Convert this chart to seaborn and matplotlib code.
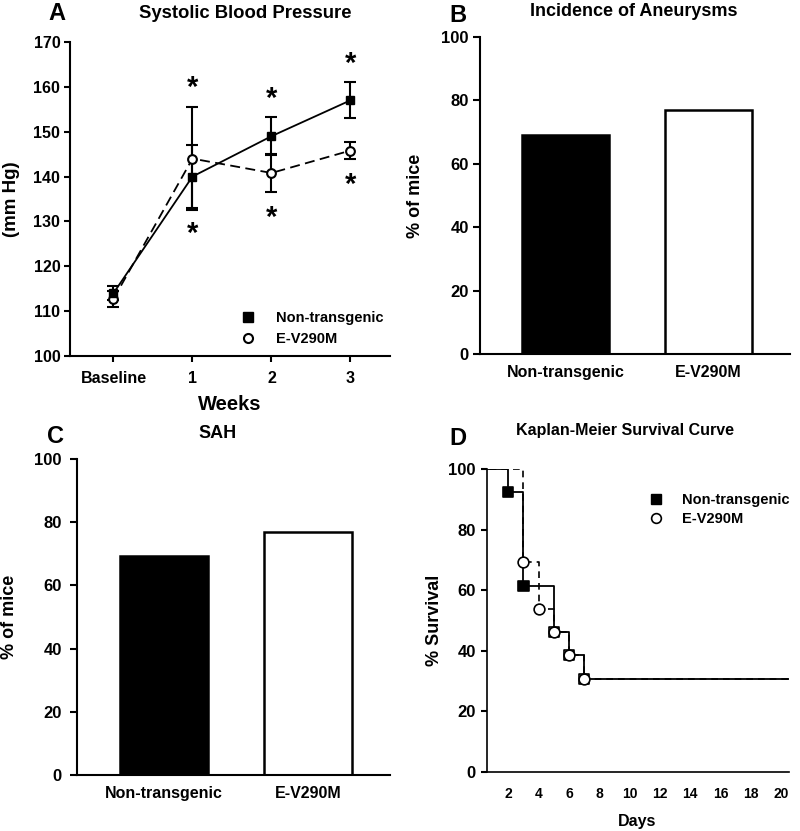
import numpy as np
import pandas as pd
import matplotlib
matplotlib.use("Agg")
import matplotlib.pyplot as plt
from matplotlib.lines import Line2D
import seaborn as sns

# ---------------- data ----------------
weeks = ["Baseline", "1", "2", "3"]
bp_nt = [114.0, 140.0, 149.0, 157.0]
bp_nt_err = [1.5, 7.0, 4.3, 4.0]
bp_ev = [112.7, 144.0, 140.8, 145.8]
bp_ev_err = [1.8, 11.5, 4.3, 1.8]
star_upper = [None, 160.9, 158.3, 166.1]
star_lower = [None, 128.4, 131.8, 139.2]

groups = ["Non-transgenic", "E-V290M"]
aneurysm_pct = [69.2, 76.9]
sah_pct = [69.2, 76.9]

km_nt_days = [0, 2, 3, 5, 6, 7, 21]
km_nt_surv = [100.0, 92.3, 61.5, 46.2, 38.5, 30.8, 30.8]
km_ev_days = [0, 3, 4, 5, 6, 7, 21]
km_ev_surv = [100.0, 69.2, 53.8, 46.2, 38.5, 30.8, 30.8]
nt_event_days = [2, 3, 5, 6, 7]
nt_event_surv = [92.3, 61.5, 46.2, 38.5, 30.8]
nt_event_fill = ["black", "black", "white", "white", "white"]
ev_event_days = [3, 4, 5, 6, 7]
ev_event_surv = [69.2, 53.8, 46.2, 38.5, 30.8]

# ---------------- style ----------------
sns.set_theme(style="ticks")
plt.rcParams["font.family"] = ["Liberation Sans", "DejaVu Sans"]
plt.rcParams["font.weight"] = "bold"
plt.rcParams["axes.labelweight"] = "bold"
plt.rcParams["axes.linewidth"] = 1.5
plt.rcParams["xtick.major.width"] = 1.5
plt.rcParams["ytick.major.width"] = 1.5
plt.rcParams["xtick.color"] = "black"
plt.rcParams["ytick.color"] = "black"
plt.rcParams["axes.edgecolor"] = "black"
plt.rcParams["text.color"] = "black"
plt.rcParams["axes.labelcolor"] = "black"

W, H = 800, 831
fig = plt.figure(figsize=(W / 100, H / 100), dpi=100)


def px_axes(l, t, r, b):
    return fig.add_axes([l / W, 1 - b / H, (r - l) / W, (b - t) / H])


def ftext(x, y, s, size, **kw):
    fig.text(x / W, 1 - y / H, s, fontsize=size, fontweight="bold",
             ha="center", va="center", **kw)


# ---------------- Panel A ----------------
axA = px_axes(70, 42, 390, 356)
xpos = np.arange(len(weeks))
dfA = pd.DataFrame({
    "x": np.concatenate([xpos, xpos]),
    "y": bp_nt + bp_ev,
    "group": ["Non-transgenic"] * 4 + ["E-V290M"] * 4,
})
sns.lineplot(data=dfA, x="x", y="y", style="group", color="black",
             dashes={"Non-transgenic": "", "E-V290M": (5.5, 3)},
             linewidth=1.3, ax=axA, legend=False, estimator=None, sort=False)
axA.errorbar(xpos, bp_ev, yerr=bp_ev_err, fmt="none", ecolor="black",
             elinewidth=1.5, capsize=4, capthick=1.5, zorder=3)
axA.errorbar(xpos, bp_nt, yerr=bp_nt_err, fmt="none", ecolor="black",
             elinewidth=1.5, capsize=4, capthick=1.5, zorder=3)
axA.plot(xpos, bp_ev, linestyle="none", marker="o", markersize=6.3,
         markerfacecolor="white", markeredgecolor="black", markeredgewidth=1.5, zorder=4)
axA.plot(xpos, bp_nt, linestyle="none", marker="s", markersize=6.3,
         markerfacecolor="black", markeredgecolor="black", zorder=5)
for i in range(len(weeks)):
    for yv in (star_upper[i], star_lower[i]):
        if yv is not None:
            axA.annotate("*", (xpos[i], yv), xytext=(0, -3.5),
                         textcoords="offset points", fontsize=21,
                         fontweight="bold", ha="center", va="center")
axA.set_xlim(-0.55, 3.5)
axA.set_ylim(100, 170)
axA.set_yticks(np.arange(100, 171, 10))
axA.set_xticks(xpos)
axA.set_xticklabels(weeks)
axA.tick_params(axis="both", labelsize=11.5, length=4, direction="out")
axA.tick_params(axis="x", pad=7)
axA.tick_params(axis="y", pad=3)
for lab in axA.get_xticklabels() + axA.get_yticklabels():
    lab.set_fontweight("bold")
sns.despine(ax=axA)
axA.set_xlabel("Weeks", fontsize=14.5, fontweight="bold")
axA.xaxis.set_label_coords(0.5, -0.124)
axA.xaxis.label.set_va("top")
axA.set_ylabel("(mm Hg)", fontsize=13.5, fontweight="bold")
axA.yaxis.set_label_coords(-0.156, 0.5)
legA = [Line2D([], [], linestyle="none", marker="s", markersize=6.5,
               markerfacecolor="black", markeredgecolor="black", label="Non-transgenic"),
        Line2D([], [], linestyle="none", marker="o", markersize=6.5,
               markerfacecolor="white", markeredgecolor="black", markeredgewidth=1.5,
               label="E-V290M")]
axA.legend(handles=legA, loc="upper left", bbox_to_anchor=(0.535, 0.143),
           frameon=False, handlelength=1.0, handletextpad=1.4, labelspacing=0.45,
           borderpad=0, borderaxespad=0, prop={"size": 10.5, "weight": "bold"})
ftext(57, 14, "A", 17)
ftext(245, 13, "Systolic Blood Pressure", 13.3)


# ---------------- bar panels ----------------
def bar_panel(ax, values, ypad, ylab_x):
    dfb = pd.DataFrame({"group": groups, "pct": values})
    sns.barplot(data=dfb, x="group", y="pct", hue="group",
                palette=["black", "white"], edgecolor="black", linewidth=1.8,
                width=0.61, ax=ax, legend=False, saturation=1)
    ax.set_xlim(-0.6, 1.57)
    ax.set_ylim(0, 100)
    ax.set_yticks(np.arange(0, 101, 20))
    ax.tick_params(axis="x", length=0, pad=8, labelsize=11.5)
    ax.tick_params(axis="y", length=5, pad=ypad, labelsize=12)
    for lab in ax.get_xticklabels() + ax.get_yticklabels():
        lab.set_fontweight("bold")
    sns.despine(ax=ax)
    ax.set_xlabel("")
    ax.set_ylabel("% of mice", fontsize=13, fontweight="bold")
    ax.yaxis.set_label_coords(ylab_x, 0.5)


axB = px_axes(480, 37, 790, 354)
bar_panel(axB, aneurysm_pct, 3, -0.18)
ftext(458, 16, "B", 17)
ftext(634, 12, "Incidence of Aneurysms", 13)

axC = px_axes(77, 459, 390, 775)
bar_panel(axC, sah_pct, 6, -0.188)
ftext(55, 437, "C", 17)
ftext(218, 433, "SAH", 13)

# ---------------- Panel D ----------------
axD = px_axes(487, 469, 789, 772)
dfD = pd.DataFrame({
    "day": km_nt_days + km_ev_days,
    "surv": km_nt_surv + km_ev_surv,
    "group": ["Non-transgenic"] * len(km_nt_days) + ["E-V290M"] * len(km_ev_days),
})
sns.lineplot(data=dfD[dfD.group == "E-V290M"], x="day", y="surv",
             color="black", linewidth=1.2, drawstyle="steps-post",
             estimator=None, sort=False, ax=axD, legend=False)
axD.lines[-1].set_linestyle((0, (4, 3)))
axD.lines[-1].set_zorder(1)
sns.lineplot(data=dfD[dfD.group == "Non-transgenic"], x="day", y="surv",
             color="black", linewidth=1.3, drawstyle="steps-post",
             estimator=None, sort=False, ax=axD, legend=False)
axD.lines[-1].set_zorder(2)
axD.scatter(nt_event_days, nt_event_surv, marker="s", s=55,
            c=nt_event_fill, edgecolors="black", linewidths=1.2, zorder=3)
axD.scatter(ev_event_days, ev_event_surv, marker="o", s=60,
            c="white", edgecolors="black", linewidths=1.2, zorder=4)
axD.set_xlim(0.6, 20.5)
axD.set_ylim(0, 100)
axD.set_xticks(np.arange(2, 21, 2))
axD.set_yticks(np.arange(0, 101, 20))
axD.tick_params(axis="x", length=0, pad=11, labelsize=10)
axD.tick_params(axis="y", length=4, pad=4, labelsize=12)
for lab in axD.get_xticklabels() + axD.get_yticklabels():
    lab.set_fontweight("bold")
sns.despine(ax=axD)
axD.spines["left"].set_linewidth(1.2)
axD.spines["bottom"].set_linewidth(1.2)
axD.set_xlabel("Days", fontsize=11.5, fontweight="bold")
axD.xaxis.set_label_coords(0.497, -0.139)
axD.xaxis.label.set_va("top")
axD.set_ylabel("% Survival", fontsize=13, fontweight="bold")
axD.yaxis.set_label_coords(-0.146, 0.5)
legD = [Line2D([], [], linestyle="none", marker="s", markersize=7,
               markerfacecolor="black", markeredgecolor="black", label="Non-transgenic"),
        Line2D([], [], linestyle="none", marker="o", markersize=7,
               markerfacecolor="white", markeredgecolor="black", markeredgewidth=1.2,
               label="E-V290M")]
axD.legend(handles=legD, loc="upper left", bbox_to_anchor=(0.535, 0.922),
           frameon=False, handlelength=1.0, handletextpad=1.3, labelspacing=0.35,
           borderpad=0, borderaxespad=0, prop={"size": 10.5, "weight": "bold"})
ftext(458, 438, "D", 17)
ftext(625, 431, "Kaplan-Meier Survival Curve", 11.5)

fig.savefig("out.png", dpi=100, facecolor="white")
